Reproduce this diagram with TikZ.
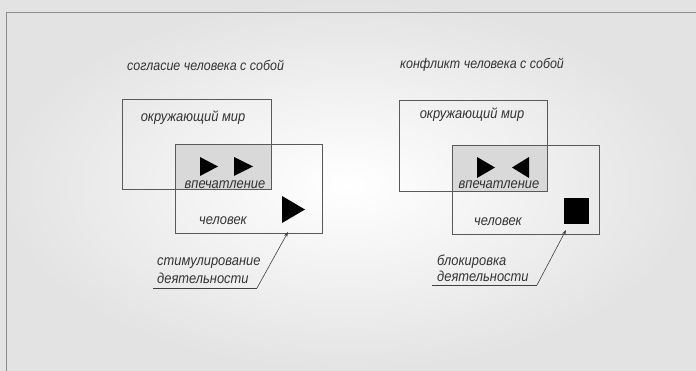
\documentclass[tikz,border=0pt]{standalone}
\usepackage{fontspec}
\setmainfont{Liberation Sans}[ItalicFeatures={FakeStretch=0.89}]
\usetikzlibrary{arrows.meta}
\begin{document}
\begin{tikzpicture}[x=1pt,y=-1pt,
  lbl/.style={font=\itshape\fontsize{14.5}{16}\selectfont, text=black!80, inner sep=0pt},
  ttl/.style={lbl, font=\itshape\fontsize{14}{15}\selectfont},
  boxs/.style={minimum width=#1, inner sep=0pt},
  frame/.style={draw=black!65, line width=0.7pt},
  tri/.style={fill=black},
  ptr/.style={draw=black!75, line width=0.6pt},
  ptrarr/.style={ptr, -{Stealth[length=5pt,width=3.5pt]}}
]
\useasboundingbox (0,0) rectangle (696,371);
\shade[inner color=white, outer color=black!11] (0,0) rectangle (696,371);
\draw[black!45, line width=0.8pt] (696,12) -- (6,12) -- (6,371);

% ---------- left diagram ----------
\node[ttl, anchor=west] (t1) at (127,65) {согласие человека с собой};
\node[boxs=148pt, minimum height=89pt] (w1) at (197,144.5) {};
\node[boxs=146pt, minimum height=88pt] (h1) at (249,189) {};
\fill[black!15] (h1.north west) rectangle (w1.south east);
\draw[frame] (w1.north west) rectangle (w1.south east);
\draw[frame] (h1.north west) rectangle (h1.south east);
\node[lbl] (wl1) at (193,118) {окружающий мир};
\node[lbl] (il1) at (225,185) {впечатление};
\node[lbl] (hl1) at (223,221) {человек};
\fill[tri] (200,157) -- (218,166.5) -- (200,176) -- cycle;
\fill[tri] (234,157) -- (253,166.5) -- (234,176) -- cycle;
\fill[tri] (282,196) -- (305,209.5) -- (282,223) -- cycle;
\node[lbl, anchor=west] (s1a) at (157,263) {стимулирование};
\node[lbl, anchor=west] (s1b) at (157,278) {деятельности};
\coordinate (a1s) at (153,288);
\coordinate (a1k) at (257,288);
\coordinate (a1e) at (288,232);
\draw[ptr] (a1s) -- (a1k);
\draw[ptrarr] (a1k) -- (a1e);

% ---------- right diagram ----------
\node[ttl, anchor=west] (t2) at (400,65) {конфликт человека с собой};
\node[boxs=147pt, minimum height=90pt] (w2) at (473.5,146) {};
\node[boxs=146pt, minimum height=88pt] (h2) at (526,190) {};
\fill[black!15] (h2.north west) rectangle (w2.south east);
\draw[frame] (w2.north west) rectangle (w2.south east);
\draw[frame] (h2.north west) rectangle (h2.south east);
\node[lbl] (wl2) at (472,115) {окружающий мир};
\node[lbl] (il2) at (499,185) {впечатление};
\node[lbl] (hl2) at (498,222) {человек};
\fill[tri] (477,157) -- (495,167.5) -- (477,178) -- cycle;
\fill[tri] (529,157) -- (512,167.5) -- (529,178) -- cycle;
\fill[tri] (564,198) rectangle (589,224);
\node[lbl, anchor=west] (s2a) at (437,262) {блокировка};
\node[lbl, anchor=west] (s2b) at (437,276) {деятельности};
\coordinate (a2s) at (432,285);
\coordinate (a2k) at (537,285);
\coordinate (a2e) at (566,230);
\draw[ptr] (a2s) -- (a2k);
\draw[ptrarr] (a2k) -- (a2e);
\end{tikzpicture}
\end{document}
